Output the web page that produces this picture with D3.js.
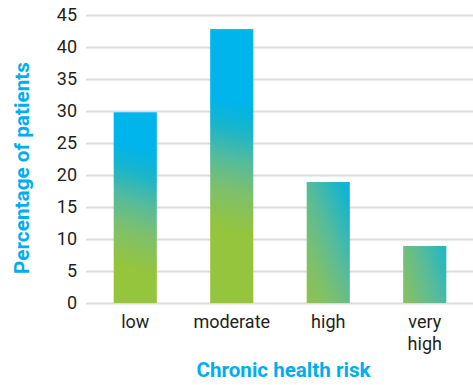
<!DOCTYPE html>
<html>
<head>
<meta charset="utf-8">
<script src="https://cdn.jsdelivr.net/npm/d3@7"></script>
<style>
  html, body { margin: 0; padding: 0; background: #ffffff; }
  svg { display: block; }
</style>
</head>
<body>
<svg id="chart" width="473" height="385"></svg>
<script>
// Share of patients in each chronic health risk group
const categories = ["low", "moderate", "high", "very high"];
const percentages = [29.8, 42.8, 18.9, 8.9];
const yTickValues = [0, 5, 10, 15, 20, 25, 30, 35, 40, 45];
const yAxisTitle = "Percentage of patients";
const xAxisTitle = "Chronic health risk";

const width = 473, height = 385;
const margin = { top: 15, right: 0, bottom: 82, left: 87 };
const svg = d3.select("#chart");

const x = d3.scaleBand()
  .domain(categories)
  .range([margin.left, width - margin.right])
  .padding(0);

const y = d3.scaleLinear()
  .domain([0, 45])
  .range([height - margin.bottom + 0.0, margin.top]);

const barWidth = x.bandwidth() * 0.447;
const textColor = "#231f20";
const titleColor = "#00aeef";
const fontBody = "Roboto, 'Liberation Sans', Arial, sans-serif";

// Horizontal gridlines with tick labels
const yAxis = d3.axisLeft(y)
  .tickValues(yTickValues)
  .tickSize(-(width - margin.left + 1))
  .tickPadding(10)
  .tickFormat(d3.format("d"));

const gy = svg.append("g")
  .attr("transform", `translate(${margin.left - 1},0)`)
  .call(yAxis);
gy.select(".domain").remove();
gy.selectAll(".tick line")
  .attr("stroke", "#dcdcdc")
  .attr("stroke-width", 1.8);
gy.selectAll(".tick text")
  .attr("x", -9)
  .attr("fill", textColor)
  .style("font-family", fontBody)
  .style("font-size", "18px");

// Per-bar gradient: green at the base blending into blue toward the top
const stops = [
  [0, "#95c43d"],
  [0.3, "#7fc06a"],
  [0.55, "#55bb9c"],
  [0.8, "#16b5cd"],
  [1, "#00b4ec"]
];
const defs = svg.append("defs");
categories.forEach((c, i) => {
  const v = percentages[i];
  const x0 = x(c) + (x.bandwidth() - barWidth) / 2;
  const h = y(0) - y(v);
  const cx = x0 + barWidth / 2;
  const cy = y(v) + h / 2;
  const angle = (18 + 60 / (1 + Math.exp(-(h - 155) / 15))) * Math.PI / 180;
  const len = 100 + h * 0.1;
  const dx = Math.cos(angle) * len / 2;
  const dy = -Math.sin(angle) * len / 2;
  const g = defs.append("linearGradient")
    .attr("id", "barfill" + i)
    .attr("gradientUnits", "userSpaceOnUse")
    .attr("x1", cx - dx).attr("y1", cy - dy)
    .attr("x2", cx + dx).attr("y2", cy + dy);
  stops.forEach(([o, col]) => {
    g.append("stop").attr("offset", o).attr("stop-color", col);
  });
});

// Bars
svg.append("g")
  .selectAll("rect")
  .data(categories.map((c, i) => ({ c, v: percentages[i], i })))
  .join("rect")
  .attr("x", d => x(d.c) + (x.bandwidth() - barWidth) / 2)
  .attr("y", d => y(d.v))
  .attr("width", barWidth)
  .attr("height", d => y(0) - y(d.v))
  .attr("fill", d => `url(#barfill${d.i})`);

// Category labels, wrapping multi-word names onto separate lines
const labels = svg.append("g")
  .selectAll("text")
  .data(categories)
  .join("text")
  .attr("x", d => x(d) + x.bandwidth() / 2)
  .attr("y", 328)
  .attr("text-anchor", "middle")
  .attr("fill", textColor)
  .style("font-family", fontBody)
  .style("font-size", "18px");
labels.each(function (d) {
  const words = d.split(" ");
  const t = d3.select(this);
  words.forEach((w, k) => {
    t.append("tspan")
      .attr("x", x(d) + x.bandwidth() / 2)
      .attr("dy", k === 0 ? 0 : 21.5)
      .text(w);
  });
});

// Axis titles
svg.append("text")
  .attr("transform", `translate(29,168) rotate(-90)`)
  .attr("text-anchor", "middle")
  .attr("fill", titleColor)
  .attr("textLength", 212)
  .attr("lengthAdjust", "spacingAndGlyphs")
  .style("font-family", fontBody)
  .style("font-weight", "bold")
  .style("font-size", "21px")
  .text(yAxisTitle);

svg.append("text")
  .attr("x", 283.5)
  .attr("y", 377)
  .attr("text-anchor", "middle")
  .attr("fill", titleColor)
  .attr("textLength", 174)
  .attr("lengthAdjust", "spacingAndGlyphs")
  .style("font-family", fontBody)
  .style("font-weight", "bold")
  .style("font-size", "21px")
  .text(xAxisTitle);
</script>
</body>
</html>
